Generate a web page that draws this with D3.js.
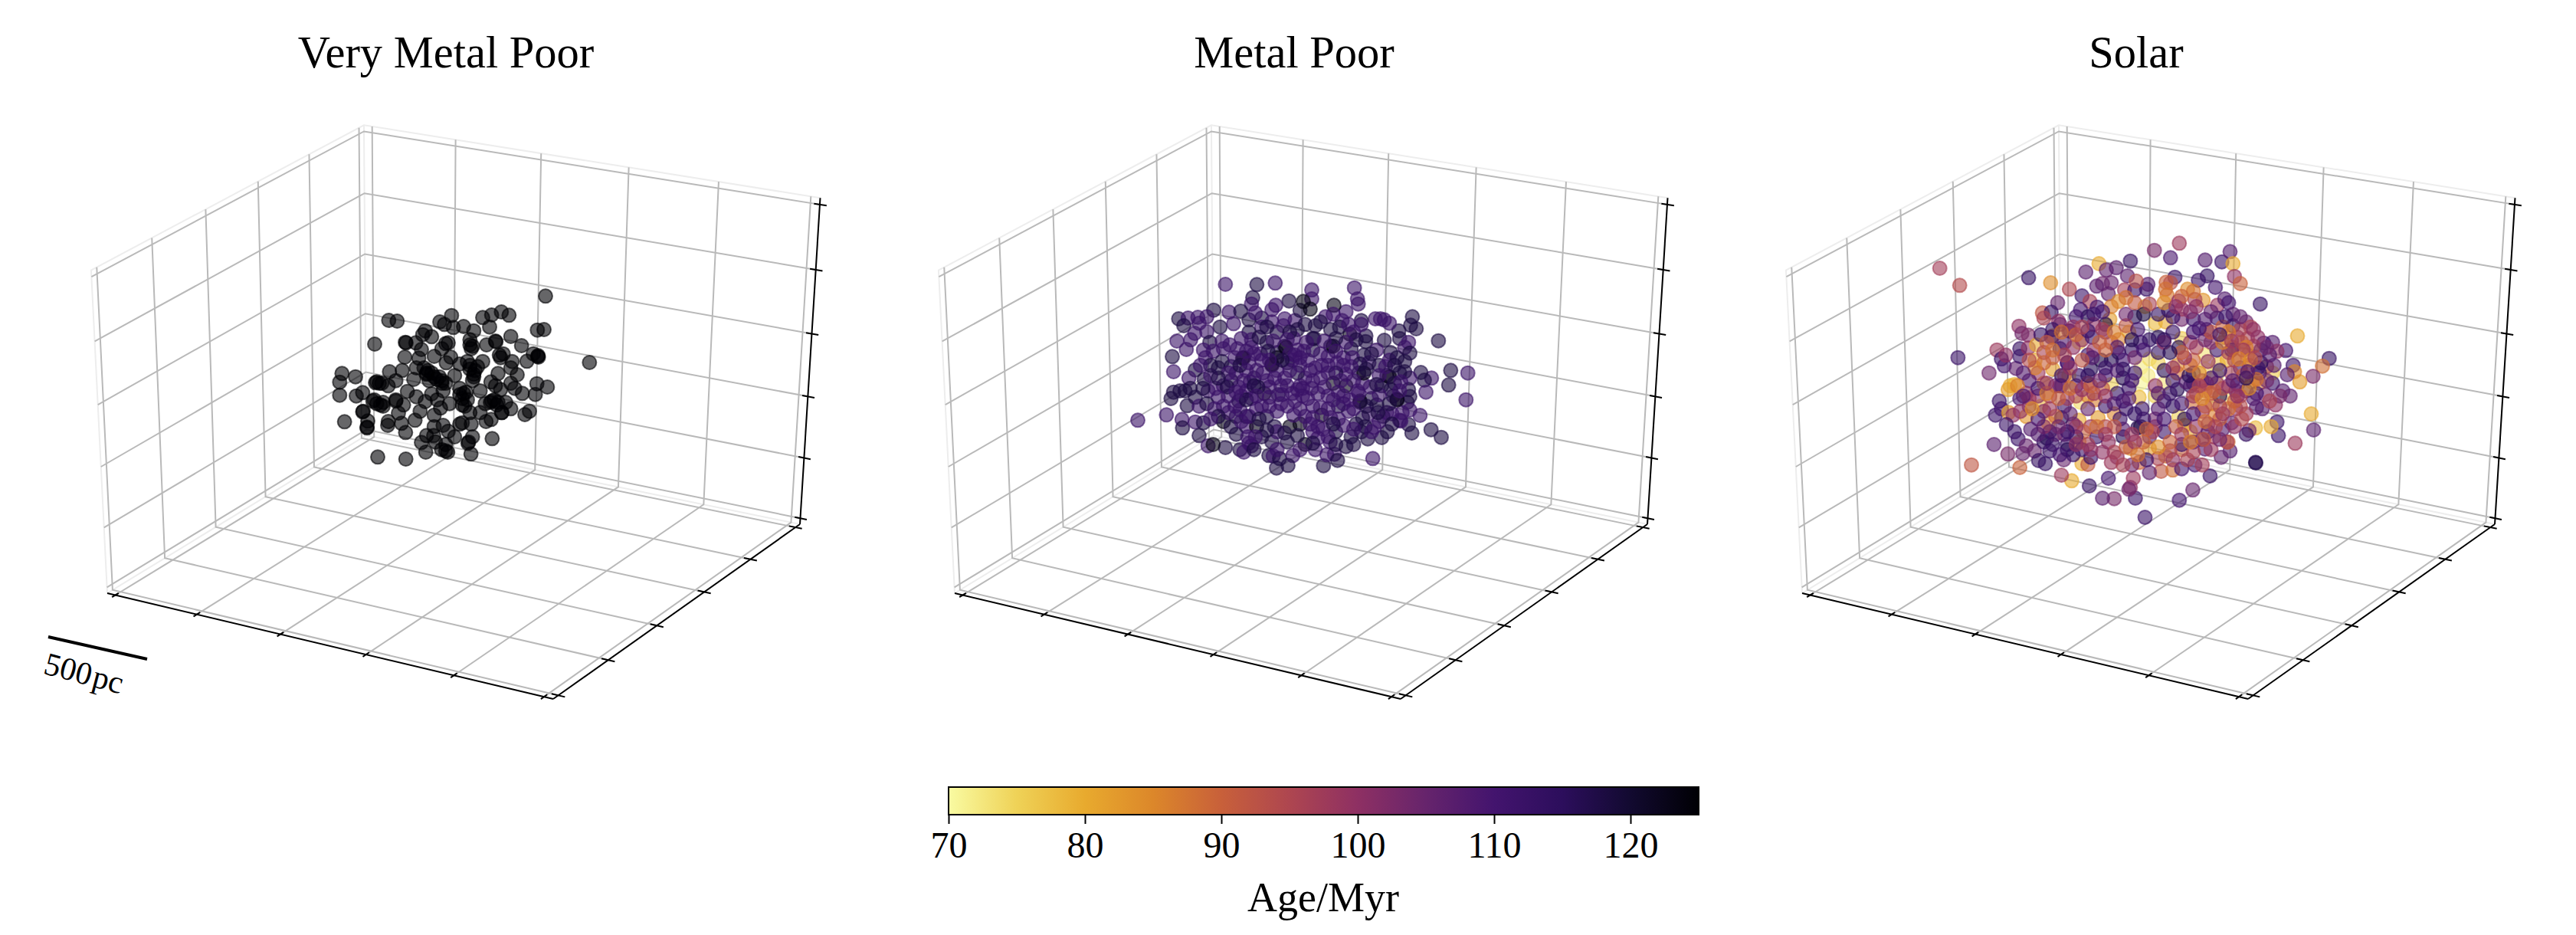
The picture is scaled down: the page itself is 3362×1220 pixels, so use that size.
<!DOCTYPE html>
<html>
<head>
<meta charset="utf-8">
<script src="https://cdn.jsdelivr.net/npm/d3@7"></script>
<style>
  body { margin: 0; background: #fff; }
  text { font-family: "Liberation Serif", serif; fill: #000; }
</style>
</head>
<body>
<div id="chart"></div>
<script>
const panelTitles = ["Very Metal Poor", "Metal Poor", "Solar"];
const titleCenters = [582, 1689, 2788];
const axisTicks = [0, 1, 2, 3, 4, 5];
const colorbarTicks = [70, 80, 90, 100, 110, 120];
const ageDomain = [70, 125];
const rampAges = [70, 75, 80, 85, 90, 95, 100, 105, 110, 115, 120, 125];
const rampColors = ["#f9fba2", "#efd257", "#e8aa2e", "#dc872a", "#c8603a", "#ae4650", "#8e3063", "#66246c", "#43146e", "#2c0e5c", "#120a30", "#000004"];

// stars: [sky x, sky y, age in Myr]
const vmpStars = [[936,139],[1108,399],[322,234],[355,237],[267,327],[139,442],[192,455],[130,476],[130,527],[149,631],[279,769],[389,777],[727,697],[644,757],[467,750],[553,750],[529,740],[450,712],[943,495],[902,482],[896,524],[855,603],[873,590],[800,580],[764,595],[723,622],[703,630],[568,215],[522,240],[690,223],[725,213],[763,201],[793,214],[717,260],[800,297],[842,333],[863,394],[888,365],[908,378],[904,272],[930,270],[907,372],[740,315],[540,250],[575,262],[615,258],[655,275],[465,275],[455,290],[490,298],[428,322],[390,322],[387,320],[450,348],[545,325],[555,322],[530,345],[640,310],[650,335],[645,345],[705,330],[742,318],[770,365],[760,380],[805,395],[800,420],[825,447],[750,442],[722,475],[385,378],[440,382],[500,375],[565,378],[547,400],[600,405],[690,395],[640,410],[660,430],[475,430],[470,445],[375,430],[325,435],[430,420],[420,465],[580,450],[530,470],[545,480],[655,455],[480,470],[350,470],[275,475],[295,480],[270,478],[320,490],[395,512],[430,533],[490,522],[512,545],[535,510],[600,500],[625,515],[610,540],[680,510],[760,505],[800,480],[815,500],[845,520],[740,490],[220,517],[195,530],[265,545],[300,555],[350,550],[380,565],[300,570],[465,552],[445,590],[525,577],[560,560],[610,565],[640,595],[680,595],[720,555],[745,565],[780,555],[765,595],[222,590],[240,628],[237,655],[320,630],[318,645],[372,637],[388,673],[425,625],[360,597],[500,605],[500,650],[535,645],[555,668],[600,640],[610,635],[645,640],[580,690],[470,685],[498,685],[505,710],[545,720],[635,710],[650,690],[632,715],[545,745],[470,440],[500,455],[530,480],[640,425],[655,445],[615,520],[620,570],[725,550],[350,545],[290,565],[237,652],[640,330],[755,370],[905,375],[220,592],[460,420],[490,440],[510,465],[520,455],[630,395],[670,415],[650,470],[600,525],[630,545],[700,560],[735,545],[750,555],[285,480],[260,550],[275,560]].map(d => [d[0], d[1], 125]);

const mpStars = [[358,123,112],[481,124,118],[553,118,112],[696,145,112],[863,137,112],[875,180,112],[465,175,118],[460,200,112],[607,188,118],[878,200,112],[696,180,112],[555,205,112],[312,224,118],[372,232,112],[418,228,118],[175,258,118],[212,255,112],[250,252,112],[285,250,112],[195,285,118],[255,275,112],[337,290,118],[390,277,112],[450,262,118],[285,308,112],[238,315,112],[168,345,112],[222,340,112],[297,350,118],[205,378,112],[272,380,112],[150,406,118],[280,410,112],[155,465,112],[240,458,118],[215,490,112],[275,495,118],[155,545,118],[180,540,118],[200,540,118],[220,530,118],[145,570,118],[240,565,118],[208,598,118],[255,600,112],[127,634,112],[15,655,112],[188,652,112],[190,685,118],[240,662,112],[272,665,118],[255,715,118],[290,755,112],[358,762,118],[415,770,118],[460,755,112],[528,793,118],[545,795,112],[570,805,118],[622,793,112],[558,842,118],[603,832,118],[742,833,118],[755,790,112],[785,788,112],[797,812,118],[935,805,112],[830,758,118],[768,740,112],[915,728,118],[970,723,118],[992,700,118],[890,700,118],[940,683,112],[1088,705,118],[1075,672,118],[1045,658,112],[1120,636,112],[1163,692,118],[1203,722,118],[1300,575,112],[1307,470,112],[1240,460,118],[1232,517,118],[1165,490,112],[1123,468,118],[1137,498,118],[1143,545,112],[1192,344,118],[1090,250,118],[1083,283,118],[1105,297,118],[1037,305,118],[1040,335,118],[980,342,118],[1000,275,112],[965,258,112],[945,258,112],[980,262,112],[890,265,118],[908,325,118],[907,347,118],[950,380,112],[1005,390,118],[1075,350,112],[1060,370,112],[1080,392,118],[1060,425,118],[1080,490,112],[1075,535,118],[1080,562,118],[1070,585,118],[1050,625,112],[1080,615,112],[1040,655,112],[1010,630,112],[975,640,118],[1030,572,118],
[500,255,118],[540,222,112],[590,258,112],[630,265,112],[650,225,118],[710,285,118],[750,250,112],[815,265,112],[830,230,112],[890,280,112],[770,300,118],[700,335,118],[640,300,118],[560,310,118],[500,290,112],[450,310,118],[420,335,112],[375,360,112],[350,375,112],[330,450,118],[380,445,118],[430,410,123],[470,395,112],[460,370,112],[520,350,118],[560,390,118],[540,440,123],[590,365,118],[625,335,112],[650,410,112],[620,420,112],[700,380,118],[760,405,112],[770,365,118],[820,410,112],[850,375,118],[900,400,118],[920,430,112],[880,470,118],[960,440,118],[1000,420,112],[1030,410,118],[1040,470,118],[990,480,118],[970,520,118],[930,570,118],[885,585,118],[950,595,118],[1015,560,112],[990,625,112],[920,630,112],[895,645,118],[840,620,112],[800,600,118],[760,560,112],[780,510,123],[830,520,123],[830,475,112],[895,510,112],[730,490,112],[670,490,112],[710,450,112],[640,470,118],[600,430,118],[590,490,112],[550,490,112],[510,550,123],[565,555,118],[430,500,112],[470,490,118],[380,500,118],[320,530,112],[300,480,112],[370,560,112],[350,600,112],[410,580,118],[440,540,112],[400,640,118],[440,680,112],[480,680,123],[350,660,123],[500,720,118],[540,740,118],[450,745,112],[400,710,118],[600,740,118],[670,750,123],[700,700,112],[740,690,112],[790,700,118],[850,720,118],[610,680,123],[650,670,123],[550,680,118],[520,640,118],[480,610,112],[560,620,112],[600,600,112],[650,610,112],[700,600,112],[735,635,123],[660,560,112],[620,550,112],[720,550,112],[800,650,112],[870,670,118],[310,750,123],[663,190,123],[690,220,123],[783,205,123],[845,318,123],[425,412,123],[540,435,123],[705,335,118],[560,410,123],[780,365,123],[900,470,123],[595,370,123],[885,580,123],[1000,485,123],[1030,575,123],[440,640,118],[380,680,118],[430,780,112],[445,720,112],[640,380,112],[480,460,112],[440,460,112],[420,560,112],[460,570,112],[520,500,112],[680,420,112],[760,440,112],[820,560,112],[760,610,112],[650,520,112],[600,520,112],[500,600,112],[350,520,112],[400,470,112],[880,550,112],[960,660,112],[720,680,112],[560,700,112],[460,340,112],[540,270,112],[860,310,112],[820,440,112],[960,480,112],[700,500,112],[630,400,112],
[475,235,112],[520,290,118],[585,285,112],[610,310,118],[670,280,118],[730,270,118],[780,240,112],[805,290,118],[840,280,112],[870,340,118],[830,350,112],[790,335,118],[745,345,112],[675,350,112],[600,340,112],[545,345,112],[490,330,118],[405,375,112],[345,345,112],[310,385,112],[345,425,118],[395,410,112],[440,385,112],[495,395,112],[525,385,118],[610,395,112],[665,385,112],[730,395,112],[790,385,112],[855,410,112],[885,435,118],[930,395,118],[985,445,112],[1020,440,118],[1060,465,118],[1020,510,118],[1045,505,112],[1005,535,118],[960,555,112],[925,525,112],[860,500,112],[875,540,112],[800,545,112],[745,525,112],[695,530,112],[640,535,112],[575,520,112],[530,525,112],[485,525,118],[455,505,112],[410,525,112],[365,525,118],[330,565,112],[290,540,112],[285,590,118],[315,610,112],[370,625,112],[415,615,112],[450,640,112],[490,650,118],[530,600,112],[575,590,112],[625,635,112],[670,640,112],[700,645,112],[730,605,112],[770,645,112],[820,590,112],[860,610,112],[910,600,118],[955,625,118],[905,680,118],[860,690,112],[820,675,112],[780,670,118],[760,720,112],[720,725,112],[690,670,112],[640,715,118],[590,705,118],[520,695,118],[475,720,112],[420,660,112],[395,600,112],[370,470,112],[415,440,118],[450,430,112],[500,420,112],[470,520,118],[505,470,112],[560,460,112],[610,460,112],[650,440,112],[690,460,112],[735,440,112],[790,470,118],[795,430,112],[850,445,112],[910,455,118],[950,515,118],[1000,590,118],[1040,540,112],[440,575,118],[480,560,112],[530,565,112],[580,555,112],[630,580,112],[680,570,112],[780,575,112],[845,575,112],[810,500,112],[760,470,112],[660,530,112],[580,420,118],[530,420,112],[400,545,112],[330,490,118],[300,440,118],[260,440,112],[270,530,118],[330,640,118],[300,650,112],[470,770,118],[560,770,112],[650,770,112],[710,770,112],[700,745,118],[790,750,118],[860,750,118],[930,700,112],[1010,670,118]];

const solarStars = [[135,150,97],[203,217,94],[438,187,113],[513,207,84],[577,232,95],[678,132,80],[633,165,107],[703,157,106],[737,148,107],[785,122,113],[867,80,103],[922,109,109],[952,52,98],[1040,118,108],[1097,125,112],[1125,85,108],[1135,132,80],[1140,182,100],[1160,210,90],[1047,180,114],[1017,197,112],[1075,225,110],[1228,290,113],[937,185,112],[775,180,107],[907,205,90],[922,207,93],[690,210,104],[720,207,105],[670,220,107],[710,250,106],[765,235,97],[800,235,112],[840,232,112],[845,213,108],[805,200,93],[620,258,112],[537,285,105],[647,280,96],[980,232,84],[910,255,87],[905,232,88],[1033,275,83],[1005,272,96],[950,278,100],[1082,295,98],[1107,270,108],[1120,285,110],[1135,330,107],[615,312,110],[672,302,110],[485,325,92],[515,322,113],[540,358,100],[405,377,100],[415,405,104],[437,412,102],[1355,415,80],[1463,503,113],[1440,533,88],[1408,573,103],[1363,595,82],[1340,530,112],[1345,555,85],[1320,567,108],[1315,472,110],[1270,440,108],[1240,443,110],[1285,475,100],[1402,720,80],[1410,783,107],[1347,835,98],[1290,805,112],[1285,752,112],[1265,770,80],[1212,775,78],[1213,912,118],[1212,910,116],[1190,785,103],[1180,800,113],[1125,865,108],[1118,830,88],[1095,890,106],[1057,963,112],[1040,858,108],[998,1018,105],[952,1058,110],[835,1125,112],[802,1050,112],[730,1052,103],[690,1050,107],[645,1002,113],[710,972,110],[795,972,98],[785,1008,100],[780,1015,104],[585,982,80],[550,960,98],[408,930,90],[243,920,92],[367,877,103],[320,840,107],[197,500,112],[303,560,104],[330,470,98],[345,505,112],[355,532,110],[395,542,106],[360,490,100],[408,465,113],[408,495,112],[437,462,100],[375,610,80],[390,605,79],[368,625,82],[338,670,112],[408,660,110],[325,725,112],[345,700,110],[370,715,82],[385,725,100],[362,762,112],[390,790,112],[402,818,112],[430,845,105],[418,875,105],[458,865,105],[472,903,113],[495,915,113],[510,865,112],[558,900,105],[620,915,80],[640,918,92],[890,945,92],[930,940,88],[960,935,110],[1005,920,110],[1030,920,97],[850,950,106],
[820,540,72],[850,505,74],[880,520,75],[845,570,72],[820,600,71],[900,600,73],[870,650,75],[815,655,78],[1040,490,73],[1040,545,74],[1080,570,73],[1115,655,74],[960,425,76],[720,605,75],[615,675,74],[610,440,76],[870,365,78],[905,360,80],[835,300,80],[1085,525,76],[1270,560,76],[950,730,75],[465,450,80],[460,510,80],[520,545,82],[575,570,78],[490,600,84],[480,690,78],[430,730,83],[505,755,80],[610,745,80],[675,735,82],[640,650,86],[665,665,86],[730,720,85],[715,350,82],[745,280,84],[780,400,80],[745,430,85],[520,415,85],[1110,420,82],[1135,460,88],[1115,510,80],[1185,490,88],[1200,595,80],[1225,600,86],[1040,630,88],[1065,680,84],[1075,725,86],[970,765,84],[990,790,80],[850,855,82],[785,855,84],[815,910,90],[610,830,84],[905,885,86],[960,860,90],[995,675,88],[945,530,84],[945,560,88],[1000,510,90],[1010,460,96],
[490,345,96],[545,370,104],[580,395,106],[620,430,100],[655,420,112],[700,370,118],[800,340,116],[915,315,115],[960,350,104],[1000,350,112],[1045,390,110],[1080,345,112],[1135,375,114],[1180,360,104],[1195,380,96],[1185,425,96],[1230,470,112],[1205,455,95],[1250,535,96],[1225,560,114],[1270,600,112],[1305,630,108],[1330,650,106],[1245,645,104],[1280,685,100],[1235,700,108],[1215,695,108],[1180,720,98],[1145,700,100],[1130,755,106],[1100,780,108],[1070,810,96],[1030,820,106],[1000,870,96],[960,840,112],[930,900,100],[880,895,96],[850,810,108],[810,775,116],[870,770,100],[900,790,112],[760,810,116],[710,830,100],[670,810,112],[620,860,112],[570,840,112],[560,800,108],[650,890,112],[740,890,100],[790,920,104],[840,900,112],[650,770,98],[590,760,104],[550,735,116],[560,690,112],[490,710,102],[440,690,104],[470,650,100],[530,610,104],[550,610,108],[600,610,108],[610,570,112],[650,545,116],[685,510,118],[570,520,108],[545,465,114],[490,480,96],[480,410,113],[515,420,110],[575,395,108],[640,340,116],[700,400,104],[745,480,112],[790,470,114],[760,510,110],[820,440,112],[880,420,116],[930,400,112],[950,460,116],[880,480,114],[990,440,100],[1080,470,112],[1060,440,100],[1150,420,100],[1160,540,112],[1130,560,96],[1150,605,110],[1090,650,116],[1045,600,96],[990,610,114],[945,625,116],[1000,600,114],[1010,640,90],[1080,600,100],[900,670,112],[825,700,112],[780,620,112],[740,640,114],[700,690,112],[660,640,98],[570,660,98],[580,720,106],[640,700,105],[750,740,112],[820,770,118],[870,740,104],[930,690,114],[970,740,116],[1030,710,98],[1010,770,100],[1180,630,112],[1215,640,110],[1145,630,104],[1275,530,108],[1190,530,92],[1050,515,100],[1000,560,112],[900,550,116],[760,580,116],[700,570,110],[640,600,96],[560,570,92],[470,560,98],[440,590,108],[430,640,100],[410,710,100],[490,830,113],[500,815,116],[570,860,116],[730,870,96],[770,850,92],[1000,720,110],[1115,830,96],[1060,860,98],[920,865,96],[980,900,96],[640,490,112],[570,520,110],[545,610,104],[510,650,96],[870,610,100],[800,560,112],[930,540,100],[1130,470,114],[1230,520,116],[1120,480,96],[720,440,92],[690,390,96],[660,470,100],[720,510,116],[800,500,104],
[520,390,113],[560,440,108],[600,340,110],[660,370,100],[680,440,90],[730,400,86],[770,375,92],[810,390,110],[850,430,114],[900,440,100],[770,330,104],[830,330,118],[960,310,98],[1010,300,100],[1060,320,106],[1100,380,90],[1165,440,92],[1220,420,100],[1260,490,108],[1160,390,96],[1100,440,86],[1040,430,104],[1000,400,110],[1060,400,92],[1180,460,86],[1140,510,96],[1170,570,90],[1220,540,112],[1250,590,104],[1295,650,103],[1260,670,96],[1205,660,108],[1160,690,94],[1120,700,88],[1090,740,90],[1050,760,100],[1040,690,92],[1000,650,98],[960,680,110],[920,640,112],[880,700,108],[940,770,92],[900,740,110],[860,790,96],[830,830,90],[800,830,100],[760,780,108],[700,770,94],[670,770,88],[625,790,90],[600,810,110],[640,840,96],[690,870,100],[720,910,98],[760,920,96],[810,880,88],[880,850,84],[920,830,90],[960,800,98],[1000,830,104],[1050,790,108],[1090,820,104],[1140,770,100],[1165,740,94],[530,800,104],[510,790,112],[490,770,100],[530,730,90],[510,700,98],[470,740,110],[445,780,108],[470,800,108],[520,840,112],[545,880,110],[590,880,112],[600,840,100],[440,660,98],[470,620,110],[500,640,86],[540,660,90],[600,650,96],[580,620,88],[620,625,100],[650,610,90],[690,620,92],[700,650,100],[730,680,108],[770,700,112],[800,720,114],[760,670,110],[830,740,112],[880,640,108],[930,590,112],[975,595,108],[985,570,116],[1030,590,100],[1070,630,88],[1100,620,94],[1120,610,100],[1160,650,96],[1140,670,90],[1190,620,84],[1215,585,88],[1180,580,116],[1135,590,108],[1090,550,112],[1060,580,110],[1020,560,84],[990,530,88],[970,500,100],[960,480,90],[920,480,116],[900,430,114],[830,470,110],[790,430,116],[740,460,108],[700,470,90],[655,500,108],[620,510,92],[590,460,100],[560,490,96],[520,500,92],[490,520,90],[460,540,86],[440,510,94],[420,560,108],[400,610,86],[420,650,108],[450,700,84],[500,600,100],[550,570,112],[580,540,100],[640,570,114],[680,590,104],[740,550,108],[700,540,112],[760,545,114],[790,590,110],[780,660,108],[730,770,92],[790,800,98],[840,780,90],[700,800,98],[650,860,100],[600,770,100],[570,790,112],[540,770,104],[1035,820,92],[990,830,86],[1040,750,88],[1075,770,96],[1100,720,100],[1060,640,92],[1090,690,96],[1150,650,100],[1030,660,84],[1020,610,96],[1120,400,86],[1090,410,112],[1130,435,98],[1170,470,98],[1155,505,86],[1195,510,84],[1210,500,96],[1185,555,108],[1020,385,110],[930,340,112],[880,330,114],[850,290,96],[800,285,92],[770,265,88],[720,300,86],[690,320,110],[660,330,112],[590,380,100],[550,400,88],[500,440,92],[520,470,88],[600,410,90],[640,395,112],[620,380,96],[1000,240,88],[960,260,90],[900,285,84],[940,300,100],[990,320,102],[1040,350,108],[1110,340,112],[1160,340,106],[1205,390,100],[1250,460,104]];

const width = 3362, height = 1220;
const panelShift = 1106;

// pane box floor corners of the first panel, in picture pixels
const boxA = [140, 774], boxB = [722, 912], boxC = [1044, 684], boxD = [478, 568];
// how the z direction enters the perspective, fitted to the top corners
const boxP = -27, boxQ = -439, boxR = -0.05;

const svg = d3.select("#chart").append("svg")
    .attr("width", width)
    .attr("height", height);

const ageColor = d3.scaleLinear().domain(rampAges).range(rampColors);

// maps a unit cube to the picture with a perspective like matplotlib's 3d axes
function makeProjection() {
    let [x0, y0] = boxA, [x1, y1] = boxB, [x2, y2] = boxC, [x3, y3] = boxD;
    let dx1 = x1 - x2, dx2 = x3 - x2, sx = x0 - x1 + x2 - x3;
    let dy1 = y1 - y2, dy2 = y3 - y2, sy = y0 - y1 + y2 - y3;
    let den = dx1 * dy2 - dx2 * dy1;
    let g = (sx * dy2 - dx2 * sy) / den;
    let h = (dx1 * sy - sx * dy1) / den;
    let a = x1 - x0 + g * x1, b = x3 - x0 + h * x3;
    let d = y1 - y0 + g * y1, e = y3 - y0 + h * y3;
    return (u, v, w) => {
        let k = g * u + h * v + 1 + boxR * w;
        return [(a * u + b * v + x0 + boxP * w) / k, (d * u + e * v + y0 + boxQ * w) / k];
    };
}

const project = makeProjection();

// tick number to position inside the pane box
const tickScale = d3.scaleLinear().domain([-0.1, 5.1]).range([0, 1]);

const line = d3.line();

function drawPanel(index, stars, skyX, skyY) {
    let g = svg.append("g")
        .attr("transform", "translate(" + (index * panelShift) + ",0)");

    // faint pane edges
    let panes = [
        [[0,0,0],[0,0,1],[0,1,1],[1,1,1]],
        [[0,1,0],[0,1,1]],
        [[0,0,0],[0,1,0],[1,1,0]],
        [[1,1,0],[1,1,1]]
    ];
    g.selectAll(".pane").data(panes).enter().append("path")
        .attr("class", "pane")
        .attr("d", d => line(d.map(c => project(c[0], c[1], c[2]))))
        .attr("fill", "none")
        .attr("stroke", "#ededed")
        .attr("stroke-width", 2);

    // grid
    let gridPaths = [];
    axisTicks.forEach(t => {
        let s = tickScale(t);
        gridPaths.push([[s,0,0],[s,1,0],[s,1,1]]);
        gridPaths.push([[1,s,0],[0,s,0],[0,s,1]]);
        gridPaths.push([[0,0,s],[0,1,s],[1,1,s]]);
    });
    g.selectAll(".grid").data(gridPaths).enter().append("path")
        .attr("class", "grid")
        .attr("d", d => line(d.map(c => project(c[0], c[1], c[2]))))
        .attr("fill", "none")
        .attr("stroke", "#b9b9b9")
        .attr("stroke-width", 2);

    // axis lines
    let axisPaths = [
        [[0,0,0],[1,0,0]],
        [[1,0,0],[1,1,0]],
        [[1,1,0],[1,1,1]]
    ];
    axisTicks.forEach(t => {
        let s = tickScale(t);
        axisPaths.push([[s,-0.012,0],[s,0.012,0]]);
        axisPaths.push([[0.986,s,0],[1.014,s,0]]);
        axisPaths.push([[0.988,1,s],[1.014,1,s]]);
    });
    g.selectAll(".axis").data(axisPaths).enter().append("path")
        .attr("class", "axis")
        .attr("d", d => line(d.map(c => project(c[0], c[1], c[2]))))
        .attr("fill", "none")
        .attr("stroke", "#000")
        .attr("stroke-width", 2);

    // stars
    svg.append("g").selectAll("circle")
        .data(stars)
        .enter()
        .append("circle")
        .attr("cx", d => skyX(d[0]))
        .attr("cy", d => skyY(d[1]))
        .attr("r", 9)
        .attr("fill", d => ageColor(d[2]))
        .attr("fill-opacity", 0.6)
        .attr("stroke", d => ageColor(d[2]))
        .attr("stroke-opacity", 0.6)
        .attr("stroke-width", 2);

    svg.append("text")
        .attr("x", titleCenters[index])
        .attr("y", 88)
        .attr("text-anchor", "middle")
        .attr("font-size", 58.5)
        .text(panelTitles[index]);
}

drawPanel(0, vmpStars,
    d3.scaleLinear().domain([0, 1260]).range([400, 820]),
    d3.scaleLinear().domain([0, 870]).range([340, 630]));
drawPanel(1, mpStars,
    d3.scaleLinear().domain([0, 1440]).range([1480, 1960]),
    d3.scaleLinear().domain([0, 930]).range([330, 640]));
drawPanel(2, solarStars,
    d3.scaleLinear().domain([0, 1568]).range([2480, 3080]),
    d3.scaleLinear().domain([0, 1200]).range([300, 700]));

// scale bar
svg.append("path")
    .attr("d", line([[63, 831], [192, 860]]))
    .attr("stroke", "#000")
    .attr("stroke-width", 4)
    .attr("fill", "none");
svg.append("text")
    .attr("transform", "translate(106,892) rotate(15)")
    .attr("text-anchor", "middle")
    .attr("font-size", 42)
    .attr("word-spacing", -8)
    .text("500 pc");

// colorbar
let defs = svg.append("defs");
let gradient = defs.append("linearGradient")
    .attr("id", "ageGradient")
    .attr("x1", "0%").attr("x2", "100%").attr("y1", "0%").attr("y2", "0%");
gradient.selectAll("stop")
    .data(rampAges)
    .enter()
    .append("stop")
    .attr("offset", d => ((d - ageDomain[0]) / (ageDomain[1] - ageDomain[0]) * 100) + "%")
    .attr("stop-color", d => ageColor(d));

const barX = d3.scaleLinear().domain(ageDomain).range([1238, 2217]);
svg.append("rect")
    .attr("x", 1238).attr("y", 1027)
    .attr("width", 979).attr("height", 36)
    .attr("fill", "url(#ageGradient)")
    .attr("stroke", "#000")
    .attr("stroke-width", 2);

let barAxis = svg.append("g")
    .attr("transform", "translate(0,1063)")
    .call(d3.axisBottom(barX).tickValues(colorbarTicks).tickSize(12).tickPadding(10).tickFormat(d3.format("d")));
barAxis.select(".domain").remove();
barAxis.selectAll("line").attr("stroke", "#000").attr("stroke-width", 2);
barAxis.selectAll("text").attr("font-size", 48).attr("font-family", "Liberation Serif");

svg.append("text")
    .attr("x", 1727)
    .attr("y", 1189)
    .attr("text-anchor", "middle")
    .attr("font-size", 54)
    .text("Age/Myr");
</script>
</body>
</html>
